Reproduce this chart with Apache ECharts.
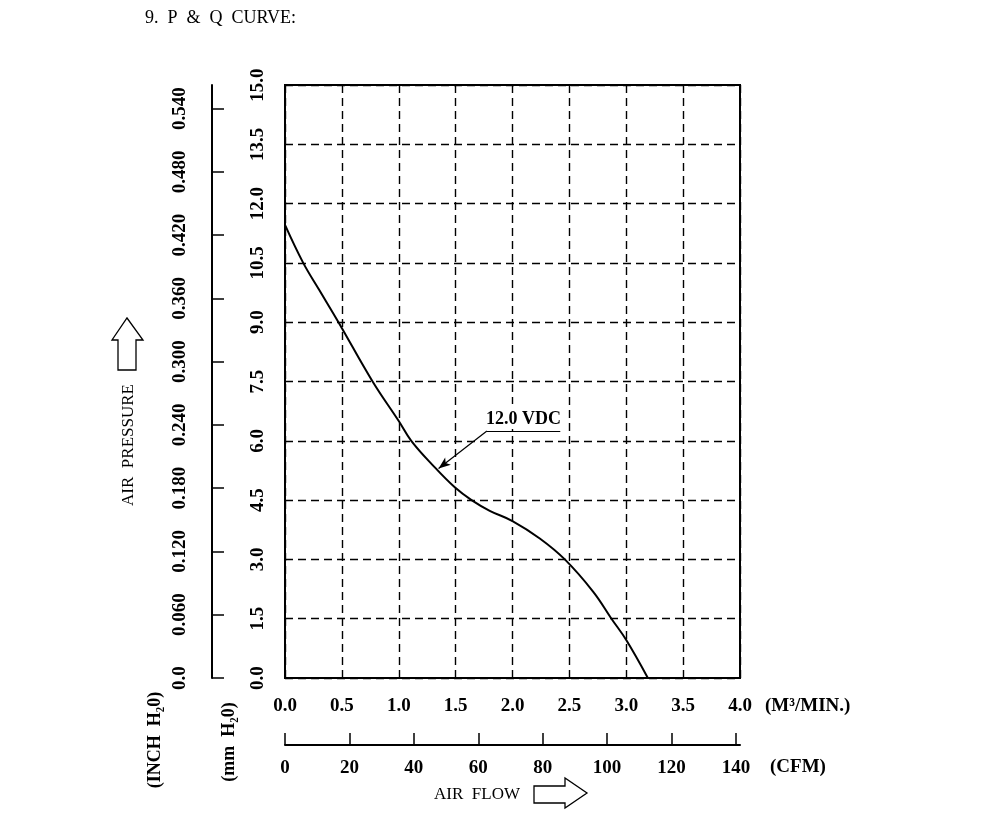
<!DOCTYPE html>
<html>
<head>
<meta charset="utf-8">
<title>P &amp; Q CURVE</title>
<script src="https://cdn.jsdelivr.net/npm/echarts@6.0.0/dist/echarts.min.js"></script>
<style>
    html, body { margin: 0; padding: 0; background: #fff; }
    #pqChart { width: 1000px; height: 813px; }
</style>
</head>
<body>
<div id="pqChart"></div>
<script>
// air flow (M3/MIN.) and static pressure (mm H2O)
var flowM3 = [0, 0.16, 0.30, 0.47, 0.77, 1.00, 1.11, 1.30, 1.49, 1.64, 1.80, 2.00, 2.24, 2.46, 2.71, 2.87, 3.00, 3.19];
var pressureMm = [11.46, 10.5, 9.82, 9.0, 7.5, 6.5, 6.0, 5.38, 4.83, 4.5, 4.23, 3.97, 3.53, 3.0, 2.18, 1.5, 0.96, 0];

var flowTicks = [0, 0.5, 1.0, 1.5, 2.0, 2.5, 3.0, 3.5, 4.0];
var cfmTicks = [0, 20, 40, 60, 80, 100, 120, 140];
var mmTicks = [0, 1.5, 3.0, 4.5, 6.0, 7.5, 9.0, 10.5, 12.0, 13.5, 15.0];
var inchTicks = [0, 0.06, 0.12, 0.18, 0.24, 0.30, 0.36, 0.42, 0.48, 0.54];

var curveName = '12.0 VDC';
// where the callout leader starts and where it points to on the curve
var calloutFrom = [1.775, 6.25];
var calloutTo = [1.35, 5.3];
var calloutEnd = [2.42, 6.25];

var FONT = '"Liberation Serif", "DejaVu Serif", serif';

var pqPage = {
    chart: null,
    init: function () {
        var that = this;
        that.chart = echarts.init(document.getElementById('pqChart'), null, {renderer: 'canvas'});
        that.chart.setOption(that.buildOption());
    },
    buildOption: function () {
        var lbl = {color: '#000', fontFamily: FONT, fontSize: 19, fontWeight: 'bold'};
        var dashed = {show: true, lineStyle: {color: '#000', width: 1.4, type: [8, 5]}};
        var solid = {show: true, onZero: false, lineStyle: {color: '#000', width: 2}};
        var points = flowM3.map(function (f, i) { return [f, pressureMm[i]]; });

        return {
            backgroundColor: '#fff',
            animation: false,
            grid: {left: 285, top: 85, right: 260, bottom: 135, show: true, borderColor: '#000', borderWidth: 2, backgroundColor: 'transparent'},
            xAxis: [
                {
                    type: 'value', min: 0, max: 4, interval: 0.5, position: 'bottom',
                    axisLine: solid, axisTick: {show: false}, splitLine: dashed,
                    axisLabel: Object.assign({margin: 19, customValues: flowTicks, formatter: function (v) { return v.toFixed(1); }}, lbl)
                },
                {
                    // CFM scale, same span as 4.0 M3/min
                    type: 'value', min: 0, max: 141.26, position: 'bottom', offset: 67,
                    axisLine: solid,
                    axisTick: {show: true, inside: true, length: 12, customValues: cfmTicks, lineStyle: {color: '#000', width: 1.5}},
                    splitLine: {show: false},
                    axisLabel: Object.assign({margin: 14, customValues: cfmTicks}, lbl)
                }
            ],
            yAxis: [
                {
                    type: 'value', min: 0, max: 15, interval: 1.5, position: 'left',
                    axisLine: solid, axisTick: {show: false}, splitLine: dashed,
                    axisLabel: Object.assign({margin: 17, rotate: 90, customValues: mmTicks, formatter: function (v) { return v.toFixed(1); }}, lbl)
                },
                {
                    type: 'value', min: 0, max: 0.5625, position: 'left', offset: 73,
                    axisLine: solid,
                    axisTick: {show: true, inside: true, length: 12, customValues: inchTicks, lineStyle: {color: '#000', width: 1.5}},
                    splitLine: {show: false},
                    axisLabel: Object.assign({margin: 22, rotate: 90, customValues: inchTicks, formatter: function (v) { return v === 0 ? '0.0' : v.toFixed(3); }}, lbl)
                }
            ],
            series: [
                {
                    name: curveName, type: 'line', xAxisIndex: 0, yAxisIndex: 0,
                    data: points, smooth: 0.4, showSymbol: false,
                    lineStyle: {color: '#000', width: 2},
                    markLine: {
                        silent: true,
                        symbol: ['none', 'arrow'],
                        symbolSize: [7, 12],
                        lineStyle: {color: '#000', width: 1.2, type: 'solid'},
                        label: {show: false},
                        data: [
                            [{coord: calloutFrom, symbol: 'none'}, {coord: calloutTo}],
                            [{coord: calloutFrom, symbol: 'none'}, {coord: calloutEnd, symbol: 'none',
                                label: {show: true, position: 'insideMiddleTop', formatter: curveName, distance: 2,
                                    backgroundColor: '#fff', padding: [6, 3, 1, 3],
                                    color: '#000', fontFamily: FONT, fontSize: 18, fontWeight: 'bold'}}]
                        ]
                    }
                }
            ],
            graphic: this.buildDecor()
        };
    },
    buildDecor: function () {
        var txt = function (x, y, text, opt) {
            opt = opt || {};
            return {
                type: 'text', x: x, y: y, rotation: opt.rot || 0, silent: true,
                style: {text: text, fill: '#000', font: (opt.bold ? 'bold ' : '') + (opt.size || 17) + 'px ' + FONT,
                    align: opt.align || 'center', verticalAlign: 'middle'}
            };
        };
        var arrowStyle = {fill: '#fff', stroke: '#000', lineWidth: 1.3};
        return [
            txt(145, 18, '9.  P  &  Q  CURVE:', {align: 'left', size: 18}),
            txt(129, 445, 'AIR  PRESSURE', {rot: Math.PI / 2, size: 17}),
            txt(155, 740, '(INCH  H\u20820)', {rot: Math.PI / 2, size: 18, bold: true}),
            txt(229, 742, '(mm  H\u20820)', {rot: Math.PI / 2, size: 18, bold: true}),
            txt(765, 706, '(M\u00b3/MIN.)', {align: 'left', size: 19, bold: true}),
            txt(770, 767, '(CFM)', {align: 'left', size: 19, bold: true}),
            txt(477, 795, 'AIR  FLOW', {size: 17}),
            {
                type: 'polygon', silent: true,
                shape: {points: [[127, 318], [143, 340], [136, 340], [136, 370], [118, 370], [118, 340], [112, 340]]},
                style: arrowStyle
            },
            {
                type: 'polygon', silent: true,
                shape: {points: [[534, 786], [565, 786], [565, 778], [587, 793], [565, 808], [565, 803], [534, 803]]},
                style: arrowStyle
            }
        ];
    }
};

pqPage.init();
</script>
</body>
</html>
